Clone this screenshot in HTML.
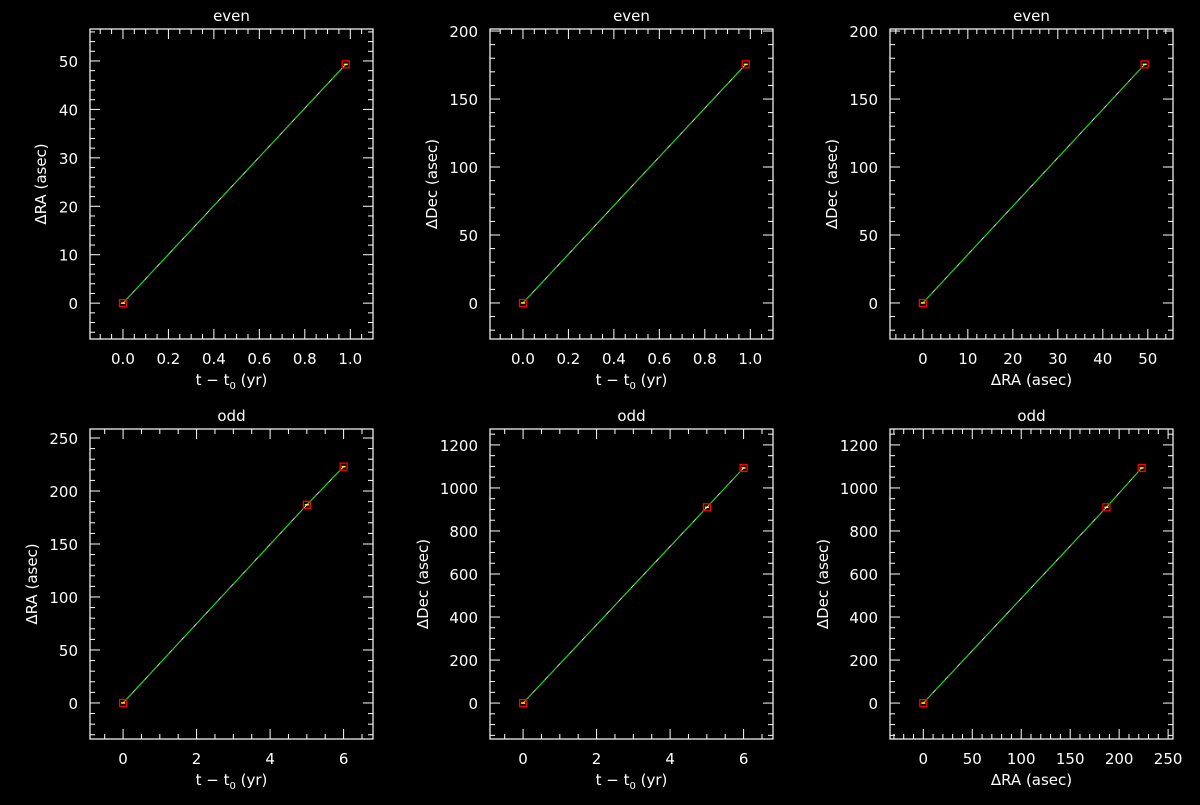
<!DOCTYPE html>
<html><head><meta charset="utf-8"><style>
html,body{margin:0;padding:0;background:#000;}
svg text{font-family:"DejaVu Sans","Liberation Sans",sans-serif;fill:#fff;font-size:15px;}
</style></head><body>
<svg id="chart" width="1200" height="800" xmlns="http://www.w3.org/2000/svg">
<rect width="1200" height="800" fill="#000"/>
</svg>
<script>
// data
const evenT = [0, 0.98];
const evenRA = [0, 49.3];
const evenDec = [0, 175.5];
const oddT = [0, 5, 6];
const oddRA = [0, 187, 223];
const oddDec = [0, 910, 1093];
const panelTitles = ["even","even","even","odd","odd","odd"];
const xTickLabelsA = ["0.0","0.2","0.4","0.6","0.8","1.0"];
const xTickLabelsB = ["0","10","20","30","40","50"];
const xTickLabelsC = ["0","2","4","6"];
const xTickLabelsD = ["0","50","100","150","200","250"];

const NS="http://www.w3.org/2000/svg";
const svg=document.getElementById('chart');
function mk(tag,attrs,parent){const e=document.createElementNS(NS,tag);for(const k in attrs)e.setAttribute(k,attrs[k]);(parent||svg).appendChild(e);return e;}

const panels=[
 {x0:90,y0:29,xr:[-0.145,1.1],yr:[-7.4,56.6],xs:evenT,ys:evenRA,xt:xTickLabelsA,xmin:4,ymaj:10,ymin:5,ymax:50,xl:"t − t",sub:true,yl:"ΔRA (asec)",name:"even-ra-vs-t"},
 {x0:490,y0:29,xr:[-0.145,1.1],yr:[-26.5,201.5],xs:evenT,ys:evenDec,xt:xTickLabelsA,xmin:4,ymaj:50,ymin:5,ymax:200,xl:"t − t",sub:true,yl:"ΔDec (asec)",name:"even-dec-vs-t"},
 {x0:890,y0:29,xr:[-7.3,55.6],yr:[-26.5,201.5],xs:evenRA,ys:evenDec,xt:xTickLabelsB,xmin:5,ymaj:50,ymin:5,ymax:200,xl:"ΔRA (asec)",sub:false,yl:"ΔDec (asec)",name:"even-dec-vs-ra"},
 {x0:90,y0:429,xr:[-0.9,6.8],yr:[-34,258.5],xs:oddT,ys:oddRA,xt:xTickLabelsC,xmin:4,ymaj:50,ymin:5,ymax:250,xl:"t − t",sub:true,yl:"ΔRA (asec)",name:"odd-ra-vs-t"},
 {x0:490,y0:429,xr:[-0.9,6.8],yr:[-167,1274],xs:oddT,ys:oddDec,xt:xTickLabelsC,xmin:4,ymaj:200,ymin:4,ymax:1200,xl:"t − t",sub:true,yl:"ΔDec (asec)",name:"odd-dec-vs-t"},
 {x0:890,y0:429,xr:[-34,255],yr:[-167,1274],xs:oddRA,ys:oddDec,xt:xTickLabelsD,xmin:5,ymaj:200,ymin:4,ymax:1200,xl:"ΔRA (asec)",sub:false,yl:"ΔDec (asec)",name:"odd-dec-vs-ra"}
];
const W=283,H=310;
panels.forEach((p,i)=>{
 const g=mk('g',{});
 
 
 const X=v=>p.x0+(v-p.xr[0])/(p.xr[1]-p.xr[0])*W;
 const Y=v=>p.y0+H-(v-p.yr[0])/(p.yr[1]-p.yr[0])*H;
 const box=mk('rect',{x:p.x0,y:p.y0,width:W,height:H,fill:'none',stroke:'#fff','stroke-width':1.2},g);
 
 
 const xv=p.xt.map(Number);
 const xstep=xv[1]-xv[0];
 for(let k=-3;k<p.xt.length+3;k++){
  for(let m=0;m<p.xmin;m++){
   const v=xv[0]+k*xstep+m*xstep/p.xmin;
   if(v<p.xr[0]||v>p.xr[1])continue;
   const L=m===0?10:5,x=X(v);
   mk('line',{x1:x,y1:p.y0+H,x2:x,y2:p.y0+H-L,stroke:'#fff'},g);
   mk('line',{x1:x,y1:p.y0,x2:x,y2:p.y0+L,stroke:'#fff'},g);
  }
 }
 p.xt.forEach(t=>{const e=mk('text',{x:X(Number(t)),y:p.y0+H+25,'text-anchor':'middle'},g);e.textContent=t;
  
  });
 for(let v=Math.ceil(p.yr[0]/p.ymaj)*p.ymaj-p.ymaj;v<=p.yr[1];v+=p.ymaj){
  for(let m=0;m<p.ymin;m++){
   const vv=v+m*p.ymaj/p.ymin;
   if(vv<p.yr[0]||vv>p.yr[1])continue;
   const L=m===0?10:5,y=Y(vv);
   mk('line',{x1:p.x0,y1:y,x2:p.x0+L,y2:y,stroke:'#fff'},g);
   mk('line',{x1:p.x0+W,y1:y,x2:p.x0+W-L,y2:y,stroke:'#fff'},g);
  }
 }
 for(let v=0;v<=p.ymax;v+=p.ymaj){const e=mk('text',{x:p.x0-12,y:Y(v)+6,'text-anchor':'end'},g);e.textContent=String(v);
  
  }
 const t=mk('text',{x:p.x0+W/2,y:p.y0-8,'text-anchor':'middle'},g);t.textContent=panelTitles[i];
 
 
 const xl=mk('text',{x:p.x0+W/2,y:p.y0+H+46,'text-anchor':'middle'},g);
 
 
 if(p.sub){xl.textContent='t − t';const s=mk('tspan',{'font-size':'10','dy':'4'},xl);s.textContent='0';const s2=mk('tspan',{'dy':'-4'},xl);s2.textContent=' (yr)';}
 else xl.textContent=p.xl;
 const off=String(p.ymax).length*9+26;
 const yl=mk('text',{x:0,y:0,'text-anchor':'middle',transform:`translate(${p.x0-off},${p.y0+H/2}) rotate(-90)`},g);
 yl.textContent=p.yl;
 
 
 const pts=p.xs.map((v,j)=>X(v)+','+Y(p.ys[j])).join(' ');
 const l1=mk('polyline',{points:pts,fill:'none',stroke:'#ddd','stroke-width':1},g);
 
 
 const l2=mk('polyline',{points:pts,fill:'none',stroke:'#00dd00','stroke-width':1,'stroke-dasharray':'14 4'},g);
 
 
 p.xs.forEach((v,j)=>{
  const cx=X(v),cy=Y(p.ys[j]);
  const m=mk('rect',{x:cx-3.5,y:cy-3.5,width:7,height:7,fill:'none',stroke:'#ff0000','stroke-width':1.3},g);
  
  
  mk('line',{x1:cx-2,y1:cy,x2:cx+2,y2:cy,stroke:'#ffff00','stroke-width':1.5},g);
 });
});
</script>
</body></html>
